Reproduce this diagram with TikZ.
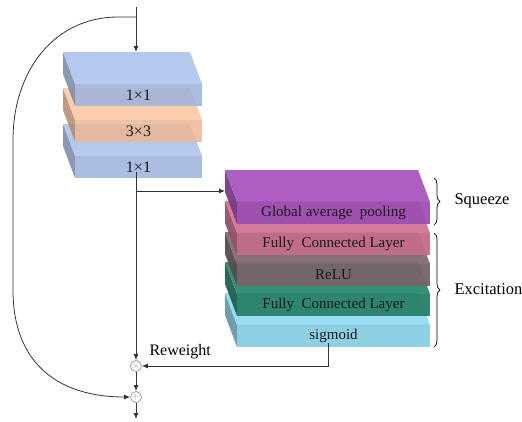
\documentclass[tikz,border=0pt]{standalone}
\usepackage{fontspec}
\setmainfont{Liberation Serif}
\usetikzlibrary{arrows.meta,decorations.pathreplacing}
\tikzset{>={Latex[length=6pt,width=5pt]}}

\definecolor{convblue}{HTML}{A8C0EC}
\definecolor{convorange}{HTML}{FDC59F}
\definecolor{poolpurple}{HTML}{A955C0}
\definecolor{fcpink}{HTML}{D17494}
\definecolor{relugrey}{HTML}{7E6B72}
\definecolor{fcgreen}{HTML}{2A8A70}
\definecolor{sigcyan}{HTML}{92DBF3}
\definecolor{opgrey}{HTML}{8797B6}

\tikzset{
  slabfill/.style={fill opacity=.85},
  slabtext/.style={inner sep=0pt, text=black!90},
  op/.style={circle, draw=opgrey, line width=0.7pt, fill=white, minimum size=11pt, inner sep=0pt, text=black!40, font=\fontsize{9}{9}\selectfont},
  link/.style={draw=black!80, line width=0.9pt},
}

% slab: name, front-left x, front-top y, width, colour, text
\newcommand{\layerslab}[6]{%
  \fill[#5!70!black, slabfill] (#2-12,#3-32) -- (#2,#3) -- (#2,#3+22) -- (#2-12,#3-10) -- cycle;
  \fill[#5, slabfill] (#2-12,#3-32) -- (#2+#4-12,#3-32) -- (#2+#4,#3) -- (#2,#3) -- cycle;
  \fill[#5!93!black, slabfill] (#2,#3) rectangle (#2+#4,#3+22);
  \node[slabtext] (#1) at (#2+#4/2,#3+11) {#6};
  \coordinate (#1-back) at (#2+#4/2-12,#3-32);
  \coordinate (#1-left) at (#2-12,#3-11);
}

\begin{document}
\begin{tikzpicture}[x=1pt, y=-1pt]
	\useasboundingbox (0,0) rectangle (522,421);
	%\draw[help lines, step=20] (0,0) grid (522,421);

	% residual branch, drawn bottom up
	\begin{scope}[font=\fontsize{16}{19}\selectfont]
		\layerslab{convc}{75}{156}{127}{convblue}{1×1}
		\layerslab{convb}{75}{120}{127}{convorange}{3×3}
		\layerslab{conva}{75}{84}{127}{convblue}{1×1}
	\end{scope}

	% SE block
	\begin{scope}[font=\fontsize{15}{18}\selectfont, slabfill/.style={fill opacity=.95}]
		\layerslab{sig}{237}{325}{193}{sigcyan}{sigmoid}
		\layerslab{fcb}{237}{294}{193}{fcgreen}{Fully\ \ Connected Layer}
		\layerslab{relu}{237}{264}{193}{relugrey}{ReLU}
		\layerslab{fca}{237}{233}{193}{fcpink}{Fully\ \ Connected Layer}
		\layerslab{gap}{237}{202}{193}{poolpurple}{Global average\ \ pooling}
	\end{scope}

	\coordinate (in) at (136,7);
	\coordinate (split) at (136,17);
	\node[op] (times) at (136,366) {$\times$};
	\node[op] (plus) at (136,397) {$+$};
	\coordinate (out) at (136,419);

	\draw[link, ->] (in) -- (in |- conva-back);
	\draw[link, ->] (in |- convc.south) -- (times);
	\draw[link, ->] (in |- gap-left) -- (gap-left);
	\draw[link, ->] ([xshift=-5.5pt]sig.south) |- (times);
	\draw[link, ->] (times) -- (plus);
	\draw[link, ->] (plus) -- (out);
	% identity shortcut
	\draw[link, line width=0.8pt, ->] (split) -- (118,17) .. controls (55,17) and (13,70) .. (13,140)
		-- (13,290) .. controls (13,365) and (60,397) .. (plus);

	\node[anchor=west, font=\fontsize{16}{19}\selectfont] (reweight) at (146,352) {Reweight};

	% squeeze / excitation braces
	\draw[line width=0.7pt, decorate, decoration={brace, amplitude=6pt}] (434,178) -- (434,225);
	\draw[line width=0.7pt, decorate, decoration={brace, amplitude=6pt}] (434,233) -- (434,347);
	\node[anchor=west, font=\fontsize{16.5}{19}\selectfont] (squeeze) at (451,201) {Squeeze};
	\node[anchor=west, font=\fontsize{16.5}{19}\selectfont] (excite) at (451,289) {Excitation};
\end{tikzpicture}
\end{document}
